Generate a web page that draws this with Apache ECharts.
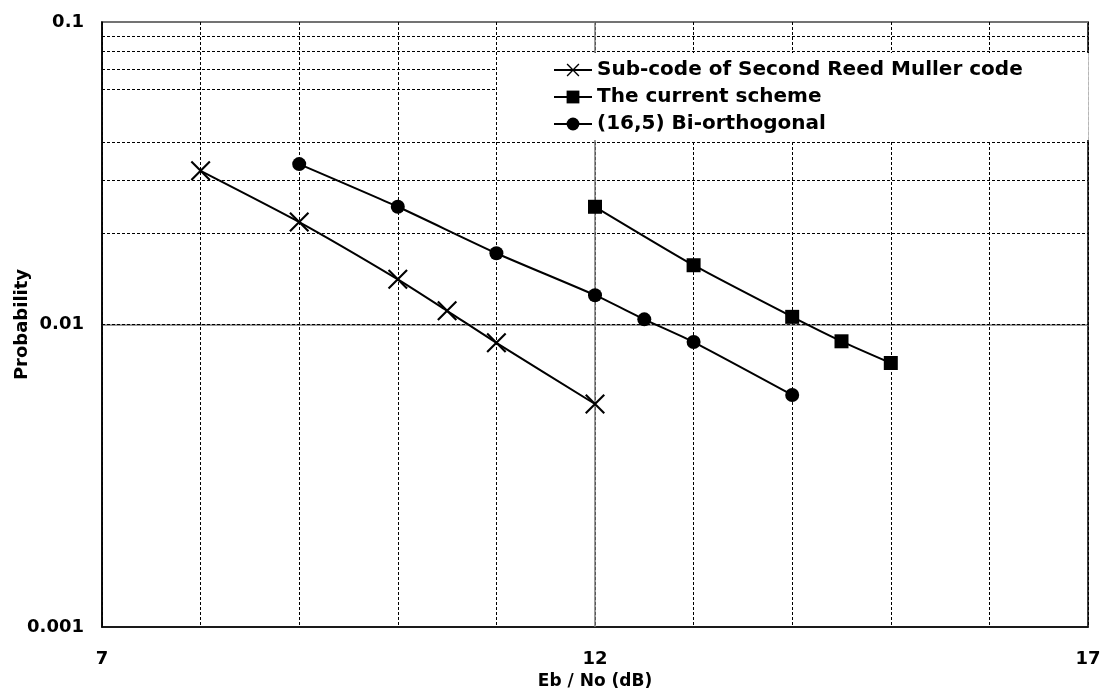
<!DOCTYPE html>
<html style="height: 100%">
<head>
<meta charset="utf-8">
<title>Probability vs Eb/No</title>
<script src="https://cdn.jsdelivr.net/npm/echarts@6/dist/echarts.min.js"></script>
</head>
<body style="height: 100%; margin: 0; background: #fff">
<div id="main" style="width: 1104px; height: 696px"></div>
<script type="text/javascript">
// data
var subCodeX = [8, 9, 10, 10.5, 11, 12];
var subCodeY = [0.0322, 0.0218, 0.0141, 0.0111, 0.0087, 0.00546];
var currentX = [12, 13, 14, 14.5, 15];
var currentY = [0.0245, 0.0157, 0.0106, 0.0088, 0.00746];
var biOrthX = [9, 10, 11, 12, 12.5, 13, 14];
var biOrthY = [0.0339, 0.0245, 0.0172, 0.0125, 0.0104, 0.00875, 0.00585];
var names = ['Sub-code of Second Reed Muller code', 'The current scheme', '(16,5) Bi-orthogonal'];
var xTickLabels = ['7', '12', '17'];
var yTickLabels = ['0.001', '0.01', '0.1'];
var minorGridY = [0.002, 0.003, 0.004, 0.005, 0.006, 0.007, 0.008, 0.009,
                  0.02, 0.03, 0.04, 0.06, 0.07, 0.08, 0.09];

function pairs(xs, ys) {
	var out = [];
	for (var i = 0; i < xs.length; i++) out.push([xs[i], ys[i]]);
	return out;
}

var font = 'DejaVu Sans';
var crossPath = 'path://M0,1.5L1.5,0L20,18.5L18.5,20ZM1.5,20L0,18.5L18.5,0L20,1.5Z';

var myChart = echarts.init(document.getElementById('main'));

var gridLines = [];
for (var i = 0; i < minorGridY.length; i++) gridLines.push({ yAxis: minorGridY[i] });
var solidLines = [{ xAxis: 12 }];

var option = {
	backgroundColor: '#fff',
	animation: false,
	grid: {
		left: 102, right: 16, top: 22, bottom: 69,
		outerBoundsMode: 'none',
		containLabel: false,
		show: true, borderColor: '#000', borderWidth: 1.5
	},
	legend: {
		orient: 'vertical',
		left: 497, top: 53,
		padding: [7, 66, 6, 56],
		itemGap: 7,
		itemWidth: 38,
		itemHeight: 16,
		backgroundColor: '#fff',
		z: 10,
		data: names,
		textStyle: { fontFamily: font, fontWeight: 'bold', fontSize: 20, color: '#000' }
	},
	xAxis: {
		type: 'value',
		min: 7, max: 17, interval: 1,
		name: 'Eb / No (dB)',
		nameLocation: 'middle',
		nameGap: 44,
		nameTextStyle: { fontFamily: font, fontWeight: 'bold', fontSize: 17, color: '#000' },
		axisLine: { lineStyle: { color: '#000', width: 1.5 } },
		axisTick: { show: false },
		axisLabel: {
			margin: 23,
			fontFamily: font, fontWeight: 'bold', fontSize: 18, color: '#000',
			formatter: function (v) {
				var s = String(v);
				return xTickLabels.indexOf(s) >= 0 ? s : '';
			}
		},
		splitLine: { show: true, lineStyle: { color: '#000', width: 1, type: [3, 2] } }
	},
	yAxis: {
		type: 'log',
		logBase: 10,
		min: 0.001, max: 0.1,
		name: 'Probability',
		nameLocation: 'middle',
		nameGap: 71,
		nameRotate: 90,
		nameMoveOverlap: false,
		nameTextStyle: { fontFamily: font, fontWeight: 'bold', fontSize: 18, color: '#000' },
		axisLine: { lineStyle: { color: '#000', width: 1.5 } },
		axisTick: { show: false },
		axisLabel: {
			margin: 18,
			fontFamily: font, fontWeight: 'bold', fontSize: 18, color: '#000',
			formatter: function (v, idx) { return yTickLabels[idx]; }
		},
		splitLine: { show: true, lineStyle: { color: '#777', width: 1.5, type: 'solid' } }
	},
	series: [
		{
			name: 'gridlines',
			type: 'line',
			data: [],
			silent: true,
			z: 1,
			markLine: {
				silent: true,
				z: 1,
				symbol: 'none',
				label: { show: false },
				animation: false,
				lineStyle: { color: '#000', width: 1, type: [3, 2] },
				data: gridLines
			}
		},
		{
			name: 'solidlines',
			type: 'line',
			data: [],
			silent: true,
			z: 1,
			markLine: {
				silent: true,
				z: 1,
				symbol: 'none',
				label: { show: false },
				animation: false,
				lineStyle: { color: '#777', width: 1.5, type: 'solid' },
				data: solidLines
			}
		},
		{
			name: names[0],
			type: 'line',
			data: pairs(subCodeX, subCodeY),
			symbol: crossPath,
			symbolSize: 20,
			smooth: 0.2,
			lineStyle: { color: '#000', width: 2 },
			itemStyle: { color: '#000' }
		},
		{
			name: names[1],
			type: 'line',
			data: pairs(currentX, currentY),
			symbol: 'rect',
			symbolSize: 14,
			smooth: 0.2,
			lineStyle: { color: '#000', width: 2 },
			itemStyle: { color: '#000' }
		},
		{
			name: names[2],
			type: 'line',
			data: pairs(biOrthX, biOrthY),
			symbol: 'circle',
			symbolSize: 14,
			smooth: 0.2,
			lineStyle: { color: '#000', width: 2 },
			itemStyle: { color: '#000' }
		}
	]
};
myChart.setOption(option);
</script>
</body>
</html>
